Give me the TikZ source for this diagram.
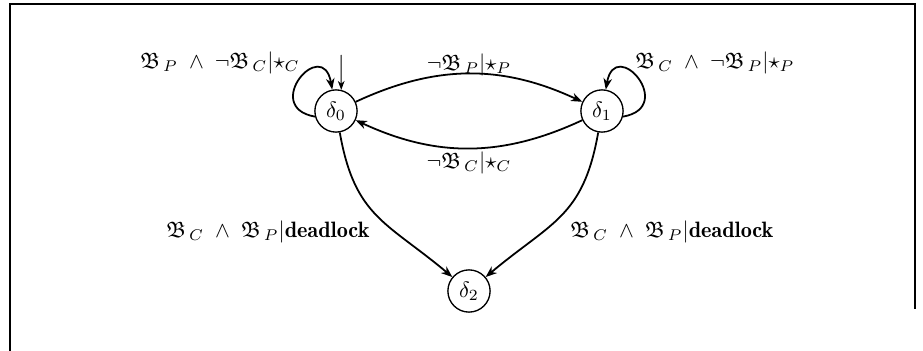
\documentclass[tikz,border=0pt]{standalone}
\usepackage{amssymb}
\usetikzlibrary{arrows.meta}
\newcommand{\dlk}{{\fontencoding{OT1}\fontfamily{cmr}\fontseries{b}\selectfont deadlock}}
\begin{document}
\begin{tikzpicture}[x=0.45pt,y=0.45pt,
  state/.style={circle,draw,line width=0.6pt,minimum size=19pt,inner sep=0.5pt},
  trans/.style={line width=0.8pt,-{Stealth[length=5pt,width=3.8pt,inset=1.5pt]}},
  initarr/.style={line width=0.45pt,-{Stealth[length=4pt,width=3pt,inset=1.2pt]}},
  lbl/.style={inner sep=0pt,font=\normalsize},
  frameline/.style={line width=0.8pt}]
\useasboundingbox (0,0) rectangle (923,351);
% frame
\coordinate (fa) at (10,0);
\coordinate (fb) at (10,347);
\coordinate (fc) at (915,347);
\coordinate (fd) at (915,42);
\draw[frameline] (fa) -- (fb) -- (fc) -- (fd);
% states
\node[state] (d0) at (336,240) {$\delta_0$};
\node[state] (d1) at (602,240) {$\delta_1$};
\node[state] (d2) at (469,60) {$\delta_2$};
% initial arrow
\coordinate (init) at (341,296);
\draw[initarr] (init) -- (d0.76);
% loops
\draw[trans] (d0.195) .. controls +(170:55) and +(100:55) .. (d0.100);
\draw[trans] (d1.345) .. controls +(10:55) and +(80:55) .. (d1.80);
% arcs
\draw[trans] (d0) to[bend left=25] (d1);
\draw[trans] (d1) to[bend left=25] (d0);
\draw[trans] (d0) to[out=-80,in=140,looseness=1.2] (d2);
\draw[trans] (d1) to[out=-100,in=40,looseness=1.2] (d2);
% labels
\node[lbl] (l0) at (220,288) {$\mathfrak{B}_{\,P}\;\wedge\;\neg\mathfrak{B}_{\,C}|{\star}_{C}$};
\node[lbl] (l1) at (715,288) {$\mathfrak{B}_{\,C}\;\wedge\;\neg\mathfrak{B}_{\,P}|{\star}_{P}$};
\node[lbl] (l2) at (469,286) {$\neg\mathfrak{B}_{\,P}|{\star}_{P}$};
\node[lbl] (l3) at (469,188) {$\neg\mathfrak{B}_{\,C}|{\star}_{C}$};
\node[lbl,anchor=east] (l4) at (370,119) {$\mathfrak{B}_{\,C}\;\wedge\;\mathfrak{B}_{\,P}|$\dlk};
\node[lbl,anchor=west] (l5) at (570,119) {$\mathfrak{B}_{\,C}\;\wedge\;\mathfrak{B}_{\,P}|$\dlk};
\end{tikzpicture}
\end{document}
